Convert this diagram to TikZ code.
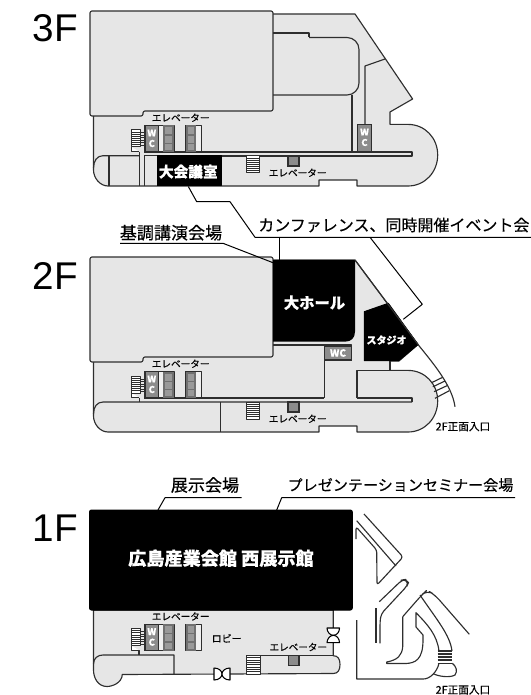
\documentclass[tikz,border=0pt]{standalone}
\usepackage{fontspec}
\setmainfont{Liberation Sans}
\newfontfamily\jpf[FakeBold=0.35]{Noto Sans CJK JP}
\newfontfamily\jpb[FakeBold=0.15]{Noto Sans CJK JP Bold}
\definecolor{floorg}{HTML}{E6E6E6}
\definecolor{wallc}{HTML}{2E2E2E}
\definecolor{wcg}{HTML}{8C8C8C}
\definecolor{cellg}{HTML}{999999}
\definecolor{cellb}{HTML}{707070}
\definecolor{stripg}{HTML}{EFEFEF}
\tikzset{
  wall/.style={draw=wallc,line width=0.85pt,line join=round},
  plane/.style={wall,fill=floorg},
  blackroom/.style={draw=black,line width=0.75pt,fill=black,line join=round},
  lead/.style={draw=black,line width=0.75pt,line join=round},
  jlabel/.style={font=\jpf\fontsize{#1}{#1}\selectfont,inner sep=0pt,text=black},
  wlabel/.style={font=\jpf\bfseries\fontsize{#1}{#1}\selectfont,inner sep=0pt,text=white},
  floorlabel/.style={font=\fontsize{29}{29}\selectfont,inner sep=0pt,anchor=east},
  wcbox/.style={draw=wallc,line width=0.8pt,fill=wcg},
  doorshape/.style={draw=black,line width=0.8pt,fill=white,line join=round}
}
\newcommand{\StairBlock}[4]{% x1 y1 x2 y2
  \fill[white] (#1,#2) rectangle (#3,#4);
  \draw[wall,line width=0.75pt] (#1,#2) rectangle (#3,#4);
  \foreach \k in {1,...,7}{
    \pgfmathsetmacro{\yy}{#2+(#4-#2)*\k/8}
    \draw[wall,line width=0.75pt] (#1,\yy) -- (#3,\yy);
  }
}
\newcommand{\CellStack}[2]{% x1 x2, y 125.5..152 local
  \fill[cellb] (#1,125.5) rectangle (#2,152);
  \pgfmathsetmacro{\xa}{#1+2}
  \pgfmathsetmacro{\xb}{#2-2}
  \fill[cellg] (\xa,127.5) rectangle (\xb,134.5);
  \fill[cellg] (\xa,135.7) rectangle (\xb,142.7);
  \fill[cellg] (\xa,143.9) rectangle (\xb,150);
}
\newcommand{\LeftCore}[1]{% floor name prefix
  \draw[wall,fill=white] (131.7,147) -- (131.7,151.7) -- (139.3,151.7);
  \StairBlock{131.7}{130}{140}{147}
  \foreach \yy in {133,135.5,138,140.5,143,145.5}{\draw[wall,line width=0.75pt] (140,\yy) -- (145,\yy);}
  \fill[stripg] (145,125.5) rectangle (174,152);
  \draw[wall] (145,125.5) rectangle (174,152);
  \draw[wcbox] (145,125.5) rectangle (158.5,152);
  \CellStack{163}{174}
  \fill[stripg] (185.5,125.5) rectangle (201.5,152);
  \draw[wall] (185.5,125.5) rectangle (201.5,152);
  \CellStack{185.5}{196}
  \node[wlabel=7] (#1w) at (151.8,133) {W};
  \node[wlabel=7] (#1c) at (151.8,143.5) {C};
  \node[jlabel=7.2] (#1e) at (180.7,117.7) {エレベーター};
}
\begin{document}
\begin{tikzpicture}[x=0.75pt,y=-0.75pt]
\useasboundingbox (0,0) rectangle (531,695);
% ---------- 3F ----------
\node[floorlabel] (f3) at (78,28.5) {3F};
\path[plane] (273,14) -- (355,14) -- (412.6,99) -- (390,112) -- (390,124.4) -- (408,124.4)
  .. controls (425,124.4) and (437.7,138) .. (437.7,155) .. controls (437.7,172) and (425,186) .. (408,186)
  -- (357,186) -- (357,180) -- (319,180) -- (319,186) -- (108,186)
  .. controls (100,186) and (93.5,178) .. (93.5,170) -- (93.5,116) -- cycle;
\draw[plane,rounded corners=1.5pt] (90,11) -- (273,11) -- (273,111) -- (143,111) -- (143,116) -- (90,116) -- cycle;
\draw[wall,rounded corners=9pt] (309,37.5) -- (359,37.5) -- (359,95) -- (273,95);
\draw[wall] (273,33) -- (309,33) -- (309,37.5);
\draw[wall] (352,95) -- (352,152);
\draw[wall] (385,59) -- (365,66) -- (365,124.4);
\draw[wall,fill=floorg] (158,152) -- (412,152) -- (412,156) -- (221,156);
\draw[wall] (93.5,168) .. controls (93.5,161) and (97,155.7) .. (103,155.7) -- (139.3,155.7);
\draw[wall] (109,155.7) -- (109,186);
\draw[wall] (139.3,151.7) -- (139.3,186) (144.3,186) -- (144.3,155.7) -- (157,155.7);
\LeftCore{a}
\draw[wcbox] (357.3,124.4) rectangle (371.7,152);
\node[wlabel=7] (aw2) at (364.5,132) {W};
\node[wlabel=7] (ac2) at (364.5,142.5) {C};
\draw[blackroom] (157,155.7) rectangle (221,186);
\node[wlabel=11] (rm3) at (188.3,171.7) {大会議室};
\StairBlock{246.7}{156}{259}{173}
\draw[wcbox] (288,156) rectangle (299,166);
\node[jlabel=7.2] (a2e) at (297.7,172.7) {エレベーター};
% ---------- 2F ----------
\node[floorlabel] (f2) at (78,276) {2F};
\path[plane] (273,260) -- (355,260) -- (418,344.5) -- (399,361) -- (390,361) -- (390,370.4) -- (408,370.4)
  .. controls (425,370.4) and (437.7,384) .. (437.7,401) .. controls (437.7,418) and (425,432) .. (408,432)
  -- (357,432) -- (357,426) -- (319,426) -- (319,432) -- (108,432)
  .. controls (100,432) and (93.5,424) .. (93.5,416) -- (93.5,362) -- cycle;
\draw[plane,rounded corners=1.5pt] (90,257) -- (273,257) -- (273,357) -- (143,357) -- (143,362) -- (90,362) -- cycle;
\draw[wall] (273,345) -- (351.7,345) -- (351.7,346);
\draw[wall] (324.3,360) -- (324.3,398);
\draw[wall] (159,398) -- (324.3,398);
\draw[wall] (357,398) -- (357,370.4) -- (408,370.4);
\draw[wall] (357,398) -- (412,398) -- (412,402);
\draw[wall] (93.5,414) .. controls (93.5,407) and (97,402) .. (103,402) -- (412,402);
\draw[wall] (220.7,402) -- (220.7,432);
\draw[wall] (139.3,397.7) -- (139.3,402);
\draw[wall] (390,361) -- (390,370.4);
\begin{scope}[shift={(0,246)}]
\LeftCore{b}
\end{scope}
\draw[wcbox] (324.3,346) rectangle (351.7,360);
\node[wlabel=7.5] (bwc) at (338,353) {WC};
\fill[black] (273,260) -- (355,260) -- (355,331.7) .. controls (355,338) and (351,341.7) .. (345,341.7) -- (273,341.7) -- cycle;
\node[wlabel=11.5] (hall) at (314.5,302.7) {大ホール};
\draw[blackroom] (364.3,311.7) -- (388.3,303.3) -- (418,344.5) -- (398.5,360.7) -- (364.3,360.7) -- cycle;
\node[wlabel=7.5] (std) at (386.5,340) {スタジオ};
\draw[wall] (355,260) -- (418,344.5) .. controls (432,362) and (452,385) .. (455,406.7);
\foreach \a/\b/\c/\d in {431.5/382.7/442.7/377.3, 432.8/386.8/445/381, 434/391.7/447/385.7, 435/398.3/449.3/390.7}{
  \draw[wall] (\a,\b) -- (\c,\d);
}
\StairBlock{246.7}{402}{259}{419}
\draw[wcbox] (288,402) rectangle (299,412);
\node[jlabel=7.2] (b2e) at (297.7,418.7) {エレベーター};
\node[jlabel=8] (ent2) at (463,426.7) {2F正面入口};
% ---------- labels, leaders upper ----------
\node[jlabel=12,anchor=west] (conf) at (258,225) {カンファレンス、同時開催イベント会};
\coordinate (c1) at (255,237.3);
\coordinate (c2) at (531,237.3);
\coordinate (c3) at (230,201.7);
\coordinate (c4) at (196.7,201.7);
\coordinate (c5) at (188.3,186.5);
\draw[lead] (c2) -- (c1) -- (c3) -- (c4) -- (c5);
\coordinate (c6) at (279.3,237.3);
\coordinate (c7) at (279.3,260);
\draw[lead] (c6) -- (c7);
\coordinate (c8) at (370,237.3);
\coordinate (c9) at (422.3,304.3);
\coordinate (c10) at (403.3,319.3);
\draw[lead] (c8) -- (c9) -- (c10);
\node[jlabel=12.8] (kicho) at (171,232.7) {基調講演会場};
\coordinate (k1) at (120,243.3);
\coordinate (k2) at (223,243.3);
\coordinate (k3) at (273,262.7);
\draw[lead] (k1) -- (k2) -- (k3);
% ---------- 1F ----------
\node[floorlabel] (f1) at (78,528.5) {1F};
\node[jlabel=12.8] (ten) at (205,485) {展示会場};
\node[jlabel=11.3] (pre) at (400.5,485) {プレゼンテーションセミナー会場};
\coordinate (t1) at (241.7,497.7);
\coordinate (t2) at (165,497.7);
\coordinate (t3) at (158,510);
\draw[lead] (t1) -- (t2) -- (t3);
\coordinate (p1) at (515,497.7);
\coordinate (p2) at (281.7,497.7);
\coordinate (p3) at (276.7,510);
\draw[lead] (p1) -- (p2) -- (p3);
\path[plane] (93.5,610) -- (333.3,610) -- (333.3,655.7)
  .. controls (338,655.7) and (340,659) .. (340,664.5) .. controls (340,670) and (338,673.5) .. (333.3,673.5)
  -- (122.3,674.5) .. controls (122,683) and (112,686.5) .. (107,686.5)
  .. controls (98,686.5) and (93.5,678) .. (93.5,670) -- cycle;
\draw[wall] (93.5,664) .. controls (93.5,658) and (98,655) .. (103,655) -- (174,655) -- (174,674);
\draw[wall] (259,655.7) -- (333.3,655.7);
\draw[wall] (139,650) -- (139,655);
\begin{scope}[shift={(0,498.7)}]
\LeftCore{c}
\end{scope}
\node[jlabel=7.5] (lob) at (226.7,638.3) {ロビー};
\StairBlock{246.5}{655.7}{260}{674}
\draw[wcbox] (288.3,655.7) rectangle (299,665.7);
\node[jlabel=7.2] (c2e) at (298.3,647) {エレベーター};
\draw[doorshape] (214,668) .. controls (219,668) and (222,671) .. (222,674) .. controls (222,677) and (219,680) .. (214,680) -- cycle;
\draw[doorshape] (230,668) .. controls (225,668) and (222,671) .. (222,674) .. controls (222,677) and (225,680) .. (230,680) -- cycle;
\draw[doorshape] (327,628) .. controls (327,632) and (330,635.3) .. (333.3,635.3) .. controls (337,635.3) and (339.5,632) .. (339.5,628) -- cycle;
\draw[doorshape] (327,642.7) .. controls (327,639) and (330,635.3) .. (333.3,635.3) .. controls (337,635.3) and (339.5,639) .. (339.5,642.7) -- cycle;
\draw[blackroom,rounded corners=1.5pt] (89.5,510) rectangle (352.3,610);
\node[wlabel=13.6] (hiro) at (221,558.3) {広島産業会館 西展示館};
% exterior
\draw[wall,rounded corners=2pt] (364,514) -- (403,557) -- (377,585) -- (376.7,550) -- (356,526.7) -- (356,539);
\draw[wall] (356.7,520.7) -- (396,566);
\draw[wall,rounded corners=3pt] (379.3,601.7) -- (402,580) -- (405,579.5) -- (408.5,582.5) -- (407,586) -- (381,614) -- (380,622) -- (380,643.3);
\draw[wall] (376,608.3) -- (376,643.3);
\draw[wall,rounded corners=5pt] (402.7,616.7) -- (421.7,595) -- (427,590) -- (435,595) -- (469.3,634.3);
\draw[wall] (402.7,616.7) -- (402.7,646.7) .. controls (402,655) and (398,660) .. (386.7,662) -- (386.7,663.5) -- (406,663.5)
  .. controls (415,663) and (423,660) .. (423,640) -- (423,635) -- (416,627) -- (416,612.7)
  .. controls (428,625) and (437,635) .. (439,651);
\draw[wall] (420,595) .. controls (437,620) and (450,635) .. (452,651);
\foreach \yy in {651,654,657,660,663.3}{\draw[wall] (437.7,\yy) -- (452.3,\yy);}
\draw[wall] (356.7,620) -- (356.7,679) -- (423.3,679) .. controls (430,679) and (437,672) .. (439,663.3);
\draw[wall] (433,673.5) .. controls (438,676.5) and (450,678) .. (455,675) .. controls (458,671) and (456,666) .. (452.3,663.3);
\node[jlabel=8] (ent1) at (463,690) {2F正面入口};
\end{tikzpicture}
\end{document}
